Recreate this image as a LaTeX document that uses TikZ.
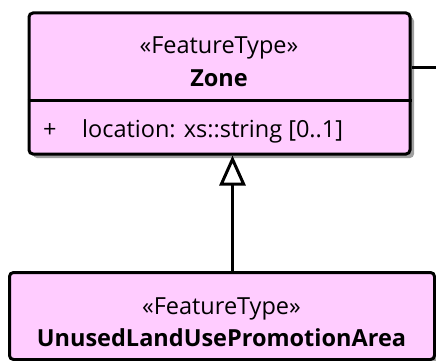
\documentclass[tikz,border=0pt]{standalone}
\usepackage{fontspec}
\setmainfont{Open Sans}
\usetikzlibrary{arrows.meta,positioning,shadows}
\definecolor{ftpink}{HTML}{FFCCFF}
\definecolor{shadowgray}{HTML}{A0A0A0}

\begin{document}
\begin{tikzpicture}[
  x=1pt, y=-1pt,
  cls/.style={draw, line width=3pt, rounded corners=4pt, fill=ftpink, inner sep=0pt, anchor=north west,
    drop shadow={shadow xshift=4pt, shadow yshift=-4pt, fill=shadowgray, opacity=1}},
  stereo/.style={anchor=base, inner sep=0pt, font=\fontsize{23.5}{28}\selectfont},
  cname/.style={anchor=base, inner sep=0pt, font=\fontsize{23.5}{28}\selectfont\bfseries},
  attr/.style={anchor=base west, inner sep=0pt, font=\fontsize{23.5}{28}\selectfont},
  gen/.style={-{Triangle[open, length=30pt, width=26pt, line width=3pt]}, line width=3pt},
  assoc/.style={line width=3pt}
]
\useasboundingbox (0,0) rectangle (436,361);

% class boxes
\node[cls, minimum width=381pt, minimum height=141pt] (zone) at (27.5,11.5) {};
\draw[line width=3pt] ([yshift=-88.5pt]zone.north west) -- ([yshift=-88.5pt]zone.north east);
\node[cls, minimum width=425pt, minimum height=87pt] (unused) at (8,271) {};

% texts
\node[stereo] (zonest) at (219,54) {«FeatureType»};
\node[cname] (zonename) at (219,86) {Zone};
\node[attr] (zonevis) at (43,137) {+};
\node[attr] (zoneloc) at (82,137) {location: xs::string [0..1]};
\node[stereo] (unusedst) at (221.5,314) {«FeatureType»};
\node[cname] (unusedname) at (221.5,346) {UnusedLandUsePromotionArea};

% connectors
\coordinate (offright) at (436,67);
\draw[assoc] (zone.east |- offright) -- (offright);
\draw[gen] ([xshift=13pt]zone.south |- unused.north) -- ([xshift=13pt]zone.south);
\end{tikzpicture}
\end{document}
